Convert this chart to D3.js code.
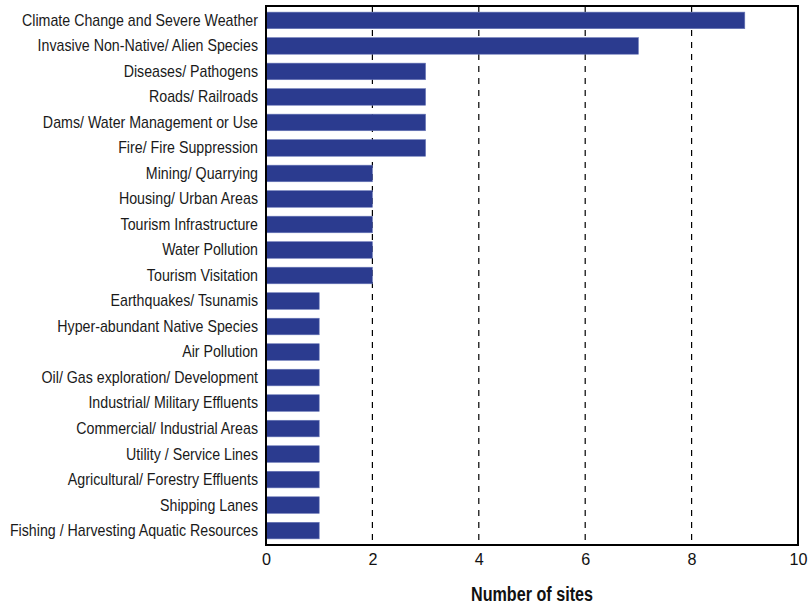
<!DOCTYPE html>
<html>
<head>
<meta charset="utf-8">
<script src="https://cdn.jsdelivr.net/npm/d3@7"></script>
<style>
  html, body { margin: 0; padding: 0; background: #fff; }
  svg { display: block; }
  .lbl { font-family: "Liberation Sans", Arial, Helvetica, sans-serif; }
</style>
</head>
<body>
<svg id="chart" width="809" height="604"></svg>
<script>
// Threats reported across sites
const categories = [
  "Climate Change and Severe Weather",
  "Invasive Non-Native/ Alien Species",
  "Diseases/ Pathogens",
  "Roads/ Railroads",
  "Dams/ Water Management or Use",
  "Fire/ Fire Suppression",
  "Mining/ Quarrying",
  "Housing/ Urban Areas",
  "Tourism Infrastructure",
  "Water Pollution",
  "Tourism Visitation",
  "Earthquakes/ Tsunamis",
  "Hyper-abundant Native Species",
  "Air Pollution",
  "Oil/ Gas exploration/ Development",
  "Industrial/ Military Effluents",
  "Commercial/ Industrial Areas",
  "Utility / Service Lines",
  "Agricultural/ Forestry Effluents",
  "Shipping Lanes",
  "Fishing / Harvesting Aquatic Resources"
];
const siteCounts = [9, 7, 3, 3, 3, 3, 2, 2, 2, 2, 2, 1, 1, 1, 1, 1, 1, 1, 1, 1, 1];
const xTicks = [0, 2, 4, 6, 8, 10];
const xTitle = "Number of sites";

const svg = d3.select("#chart");
const plotLeft = 266, plotRight = 798, plotTop = 6, plotBottom = 545;

const x = d3.scaleLinear().domain([0, 10]).range([plotLeft, plotRight]);
const y = d3.scaleBand().domain(categories).range([plotTop, plotBottom]).paddingInner(0.35).paddingOuter(0.24);

// narrow the type horizontally to get a condensed face
function condense(sel, factor) {
  sel.each(function () {
    const w = this.getComputedTextLength();
    d3.select(this)
      .attr("textLength", w * factor)
      .attr("lengthAdjust", "spacingAndGlyphs");
  });
}

// dashed gridlines
svg.append("g")
  .selectAll("line")
  .data(xTicks.filter(t => t > 0 && t < 10))
  .join("line")
  .attr("x1", d => x(d)).attr("x2", d => x(d))
  .attr("y1", plotTop).attr("y2", plotBottom)
  .attr("stroke", "#000").attr("stroke-width", 1.2)
  .attr("stroke-dasharray", "6,6");

// bars
svg.append("g")
  .selectAll("rect")
  .data(categories.map((c, i) => ({ c, v: siteCounts[i] })))
  .join("rect")
  .attr("x", x(0))
  .attr("y", d => y(d.c))
  .attr("width", d => x(d.v) - x(0))
  .attr("height", y.bandwidth())
  .attr("fill", "#2b3b8f")
  .attr("stroke", "#6a78b8")
  .attr("stroke-width", 0.6);

// frame
svg.append("rect")
  .attr("x", plotLeft).attr("y", plotTop)
  .attr("width", plotRight - plotLeft).attr("height", plotBottom - plotTop)
  .attr("fill", "none").attr("stroke", "#000").attr("stroke-width", 2);

// x axis
const xAxis = d3.axisBottom(x).tickValues(xTicks).tickSize(0).tickPadding(8).tickFormat(d3.format("d"));
const gx = svg.append("g").attr("transform", `translate(0,${plotBottom})`).call(xAxis);
gx.select(".domain").remove();
gx.selectAll("text")
  .attr("class", "lbl")
  .attr("font-size", 17)
  .attr("fill", "#111")
  .call(condense, 0.95);

// y axis labels
const yAxis = d3.axisLeft(y).tickSize(0).tickPadding(8);
const gy = svg.append("g").attr("transform", `translate(${plotLeft},0)`).call(yAxis);
gy.select(".domain").remove();
const yLabels = gy.selectAll("text")
  .attr("class", "lbl")
  .attr("font-size", 17)
  .attr("fill", "#1a1a1a");
const firstWidth = yLabels.node().getComputedTextLength();
yLabels.call(condense, 236 / firstWidth);

// axis title
svg.append("text")
  .attr("class", "lbl")
  .attr("x", (plotLeft + plotRight) / 2)
  .attr("y", 601)
  .attr("text-anchor", "middle")
  .attr("font-size", 20)
  .attr("font-weight", "bold")
  .attr("fill", "#111")
  .text(xTitle)
  .each(function () {
    d3.select(this).attr("textLength", 122).attr("lengthAdjust", "spacingAndGlyphs");
  });
</script>
</body>
</html>
